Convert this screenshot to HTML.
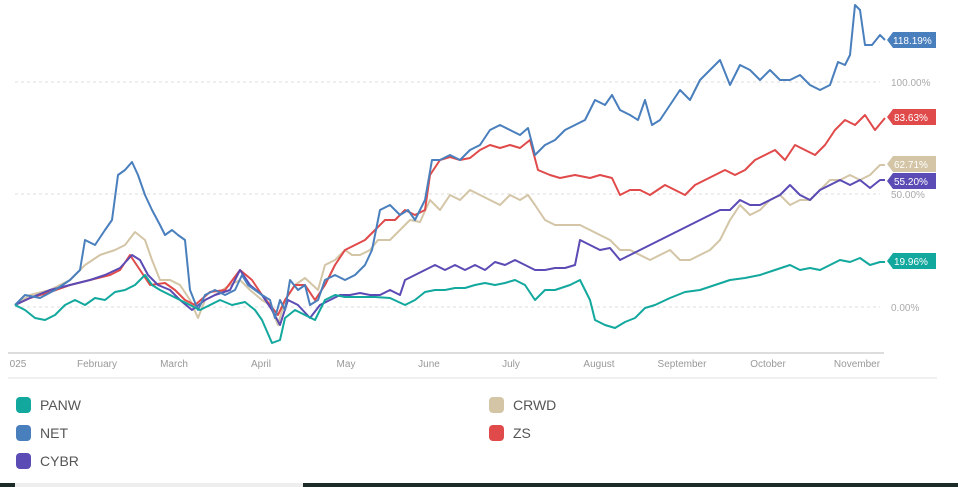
<!DOCTYPE html>
<html><head><meta charset="utf-8"><style>
body{margin:0;width:958px;height:487px;background:#fff;overflow:hidden;font-family:"Liberation Sans",sans-serif;position:relative}
.lg{position:absolute;font-size:14px;color:#555;display:flex;align-items:center}
.lg i{display:inline-block;width:15px;height:16px;border-radius:4px;margin-right:9px}
</style></head><body>
<svg width="958" height="487" style="position:absolute;left:0;top:0">
<g stroke="#ddd" stroke-dasharray="3,3" stroke-width="1">
<line x1="15" y1="82" x2="880" y2="82"/><line x1="15" y1="194" x2="880" y2="194"/><line x1="15" y1="307" x2="880" y2="307"/></g>
<g font-size="10" fill="#aaa"><text x="891" y="86">100.00%</text><text x="891" y="198">50.00%</text><text x="891" y="311">0.00%</text></g>
<line x1="8" y1="353" x2="884" y2="353" stroke="#ddd" stroke-width="2"/>
<line x1="8" y1="378" x2="937" y2="378" stroke="#e2e2e2" stroke-width="1"/>
<g font-size="10" fill="#999" text-anchor="middle"><text x="18" y="367">025</text><text x="97" y="367">February</text><text x="174" y="367">March</text><text x="261" y="367">April</text><text x="346" y="367">May</text><text x="429" y="367">June</text><text x="511" y="367">July</text><text x="599" y="367">August</text><text x="682" y="367">September</text><text x="768" y="367">October</text><text x="857" y="367">November</text></g>
<g fill="none" stroke-width="2" stroke-linejoin="round">
<polyline stroke="#d3c5a6" points="15,305 30,295 50,290 70,280 85,265 100,255 115,250 125,245 135,232 145,240 152,260 160,280 170,280 180,285 190,300 198,318 205,300 215,295 230,285 240,280 250,290 262,300 270,305 278,325 285,300 295,285 305,278 318,290 325,265 335,260 345,250 352,255 360,255 370,250 378,240 390,240 400,230 410,220 420,222 430,200 440,210 450,195 460,200 470,190 480,195 490,200 500,205 510,195 520,200 528,195 535,205 545,220 555,225 565,225 580,225 590,230 600,235 610,240 620,250 630,250 640,255 650,260 660,255 670,250 680,260 690,260 700,255 710,250 720,240 730,220 740,205 750,215 760,210 770,200 780,195 790,205 800,200 810,200 820,190 830,180 840,180 850,175 860,180 870,175 880,165 885,165"/>
<polyline stroke="#e04a4a" points="15,305 30,298 50,292 70,285 90,280 110,275 120,270 130,255 140,270 150,285 165,283 175,290 185,300 195,305 210,292 225,290 240,270 252,280 262,295 270,305 278,315 285,300 295,285 305,285 315,300 325,285 335,265 345,250 355,245 365,240 375,230 385,220 395,220 405,210 415,215 425,210 430,175 440,160 450,157 460,160 470,158 480,150 490,145 500,148 510,145 520,148 530,140 538,170 550,175 560,178 575,175 590,178 600,175 612,178 620,195 630,190 640,190 650,195 665,185 675,190 685,195 695,185 705,180 715,175 725,170 735,175 745,170 755,160 765,155 775,150 785,160 795,145 805,150 815,155 825,145 835,130 845,120 855,125 865,115 875,130 885,118"/>
<polyline stroke="#5a4bb5" points="15,305 30,298 50,290 70,285 90,280 105,275 120,268 132,255 140,260 148,275 158,285 170,290 180,300 192,310 205,300 215,295 230,290 240,270 250,285 262,295 272,310 280,325 288,300 298,305 310,318 320,305 330,300 340,295 350,295 360,293 370,295 380,295 390,290 400,295 405,280 415,275 425,270 435,265 445,270 455,265 465,270 475,265 485,270 495,262 505,265 515,260 525,265 535,270 545,270 555,268 565,268 575,265 580,240 590,245 600,250 610,248 620,260 630,255 640,250 650,245 660,240 670,235 680,230 690,225 700,220 710,215 720,210 730,210 740,200 750,205 760,205 770,200 780,195 790,185 800,195 810,200 820,190 830,185 840,180 850,185 860,180 870,188 880,180 885,180"/>
<polyline stroke="#4a7fbd" points="15,305 25,295 40,298 55,290 70,280 80,270 85,240 95,245 105,230 112,220 118,175 125,170 132,162 138,175 145,195 152,210 160,225 165,235 172,230 178,235 185,240 190,290 198,310 205,295 215,290 225,295 235,290 242,275 248,285 255,290 262,295 270,300 275,318 280,300 285,310 290,280 298,290 305,285 310,305 318,300 325,280 335,275 345,280 355,275 365,265 372,250 380,210 390,205 400,215 408,210 415,220 425,200 432,160 440,160 450,155 460,160 470,150 480,145 490,130 500,125 510,130 520,135 528,128 535,155 545,145 555,140 565,130 575,125 585,120 595,100 605,105 612,95 620,110 630,115 638,120 645,100 652,125 660,120 670,105 680,90 690,100 700,80 710,70 720,60 730,85 740,65 750,70 760,80 770,70 780,80 790,80 800,75 810,85 820,90 830,85 838,62 845,65 850,55 855,5 860,10 865,45 872,45 880,35 885,40"/>
<polyline stroke="#12a89d" points="15,305 25,310 35,318 45,320 55,315 65,305 75,300 85,305 95,298 105,300 115,292 125,290 135,285 145,275 152,285 160,290 170,295 180,300 190,305 200,310 210,305 220,300 232,305 245,302 255,310 262,320 272,343 280,340 285,318 295,310 305,315 315,320 325,300 335,295 345,297 360,297 375,297 390,298 405,305 415,300 425,292 435,290 445,290 455,288 465,288 475,285 485,283 495,285 505,283 515,280 525,285 535,300 545,290 555,290 570,285 580,280 590,300 595,320 605,325 615,328 625,322 635,318 645,308 655,305 670,298 685,292 700,290 715,285 730,280 745,278 760,275 775,270 790,265 800,270 810,268 820,270 830,265 840,260 850,262 860,258 870,265 880,262 885,262"/>
</g>
<g font-size="10" fill="#fff">
<path d="M887,40 l6,-8 h43 v16 h-43z" fill="#4a7fbd"/><text x="893" y="44">118.19%</text>
<path d="M887,117 l6,-8 h43 v16 h-43z" fill="#e04a4a"/><text x="894" y="121">83.63%</text>
<path d="M887,164 l6,-8 h43 v16 h-43z" fill="#d3c5a6"/><text x="894" y="168">62.71%</text>
<path d="M887,181 l6,-8 h43 v16 h-43z" fill="#5a4bb5"/><text x="894" y="185">55.20%</text>
<path d="M887,261 l6,-8 h43 v16 h-43z" fill="#12a89d"/><text x="894" y="265">19.96%</text>
</g>
<rect x="0" y="483" width="958" height="4" fill="#1c2a28"/>
<rect x="15" y="483" width="288" height="4" fill="#eee"/>
</svg>
<div class="lg" style="left:16px;top:397px"><i style="background:#12a89d"></i>PANW</div>
<div class="lg" style="left:16px;top:425px"><i style="background:#4a7fbd"></i>NET</div>
<div class="lg" style="left:16px;top:453px"><i style="background:#5a4bb5"></i>CYBR</div>
<div class="lg" style="left:489px;top:397px"><i style="background:#d3c5a6"></i>CRWD</div>
<div class="lg" style="left:489px;top:425px"><i style="background:#e04a4a"></i>ZS</div>
</body></html>
